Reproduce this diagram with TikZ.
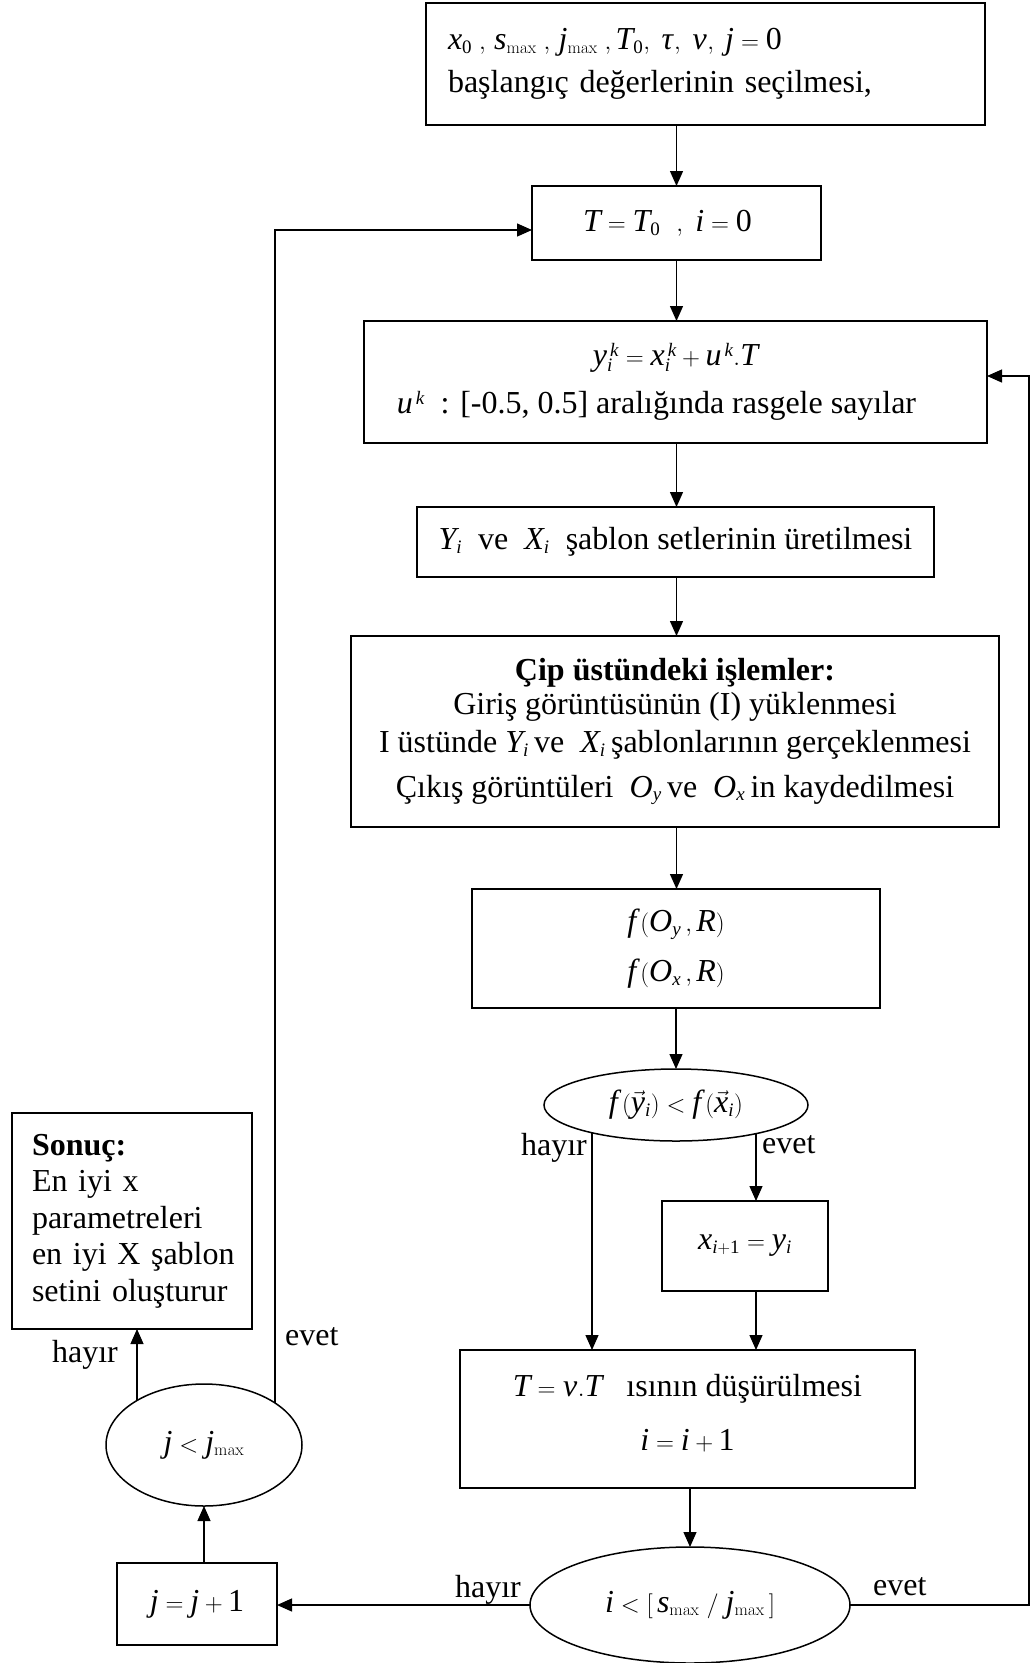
\documentclass[tikz,border=0pt]{standalone}
\usepackage{mathspec}
\setmainfont{Liberation Serif}
\setmathsfont(Digits,Latin,Greek){Liberation Serif}
\DeclareMathSizes{32}{32}{19}{14}
\usetikzlibrary{arrows.meta,shapes.geometric}

\begin{document}
\begin{tikzpicture}[x=1pt,y=-1pt,
  txt/.style={font=\fontsize{32}{38}\selectfont},
  box/.style={txt,draw,line width=2pt,inner sep=0pt,outer sep=0pt,align=center},
  oval/.style={txt,ellipse,draw,line width=1.5pt,inner sep=0pt,outer sep=0pt},
  conn/.style={line width=1.3pt,-{Triangle[length=15pt,width=13pt]}},
  lbl/.style={txt,inner sep=0pt}
]
\useasboundingbox (0,0) rectangle (1032,1663);

% main column
\node[box,minimum width=559,minimum height=122,text width=515,align=left] (b1) at (705.5,64)
  {$x_0\;,\, s_{\max}\;,\, j_{\max}\;, T_0,\; \tau,\; \nu,\; j = 0$\\[5pt] başlangıç değerlerinin seçilmesi,};
\node[box,minimum width=289,minimum height=74] (b2) at (676.5,223)
  {$T = T_0\ \ ,\ i = 0$\hspace*{18pt}};
\node[box,minimum width=623,minimum height=122] (b3) at (675.5,382)
  {$y_i^{\,k} = x_i^{\,k} + u^{\,k} .T$\\[10pt] $u^{\,k}$\ \ : [-0.5, 0.5] aralığında rasgele sayılar\hspace*{38pt}};
\node[box,minimum width=517,minimum height=70] (b4) at (675.5,542)
  {$Y_i$\ \ ve\ \ $X_i$\ \ şablon setlerinin üretilmesi};
\node[box,minimum width=648,minimum height=191] (b5) at (675,731.5)
  {\textbf{Çip üstündeki işlemler:}\\[-4pt]
   Giriş görüntüsünün (I) yüklenmesi\\
   I üstünde $Y_i$\,ve\ \ $X_i$\,şablonlarının gerçeklenmesi\\[7pt]
   Çıkış görüntüleri\ \ $O_y$\,ve\ \ $O_x$\,in kaydedilmesi};
\node[box,minimum width=408,minimum height=119] (b6) at (676,948.5)
  {$f\,(O_y\,, R)$\\[12pt] $f\,(O_x\,, R)$};
\node[oval,minimum width=264,minimum height=72] (e1) at (676,1105)
  {$f\,(\vec{y}_i) < f\,(\vec{x}_i)$};
\node[box,minimum width=166,minimum height=90] (b7) at (745,1246)
  {$x_{i+1} = y_i$};
\node[box,minimum width=455,minimum height=138] (b8) at (687.5,1419)
  {$T = \nu.T$\ \ \ ısının düşürülmesi\\[16pt] $i = i + 1$\\[-24pt]\mbox{}};
\node[oval,minimum width=320,minimum height=116] (e2) at (690,1605)
  {$i < [\,s_{\max}\; /\; j_{\max}\,]$};

% left column
\node[box,minimum width=160,minimum height=82] (jb) at (197,1604) {$j = j + 1$};
\node[oval,minimum width=196,minimum height=122] (e3) at (204,1445) {$j < j_{\max}$};
\node[box,minimum width=240,minimum height=216,text width=220,align=left,
      font=\fontsize{32}{36.6}\selectfont,execute at begin node={\leftskip=10pt}] (res) at (132,1221)
  {\textbf{Sonuç:}\\ En iyi x\\ parametreleri\\ en iyi X şablon\\ setini oluşturur};

% branch points on the decision ovals and loop corners
\coordinate (e1no)  at (592,1132.8);
\coordinate (e1yes) at (756,1133.6);
\coordinate (e3no)  at (137,1400.4);
\coordinate (e3yes) at (275,1403);
\coordinate (rloop) at (1029,1605);
\coordinate (lloop) at (275,230);
\coordinate (b3in)  at ([yshift=6pt]b3.east);
\coordinate (b2in)  at ([yshift=-7pt]b2.west);

% connectors
\draw[conn] (b1.south -| b2.north) -- (b2.north);
\draw[conn] (b2.south) -- (b2.south |- b3.north);
\draw[conn] (b3.south -| b2.south) -- (b2.south |- b4.north);
\draw[conn] (b4.south -| b2.south) -- (b2.south |- b5.north);
\draw[conn] (b5.south -| b2.south) -- (b2.south |- b6.north);
\draw[conn] (b6.south -| e1.north) -- (e1.north);
\draw[conn] (e1no) -- (e1no |- b8.north);
\draw[conn] (e1yes) -- (e1yes |- b7.north);
\draw[conn] (e1yes |- b7.south) -- (e1yes |- b8.north);
\draw[conn] (b8.south -| e2.north) -- (e2.north);
\draw[conn] (e2.west) -- (jb.east |- e2.west);
\draw[conn] (jb.north -| e3.south) -- (e3.south);
\draw[conn] (e3no) -- (e3no |- res.south);
\draw[conn] (e3yes) -- (lloop) -- (b2in);
\draw[conn] (e2.east) -- (rloop) -- (rloop |- b3in) -- (b3in);

% branch labels
\node[lbl,anchor=base east] (l1) at (587,1155) {hayır};
\node[lbl,anchor=base west] (l2) at (762,1153) {evet};
\node[lbl,anchor=base east] (l3) at (118,1362) {hayır};
\node[lbl,anchor=base west] (l4) at (285,1345) {evet};
\node[lbl,anchor=base east] (l5) at (521,1597) {hayır};
\node[lbl,anchor=base west] (l6) at (873,1595) {evet};
\end{tikzpicture}
\end{document}
